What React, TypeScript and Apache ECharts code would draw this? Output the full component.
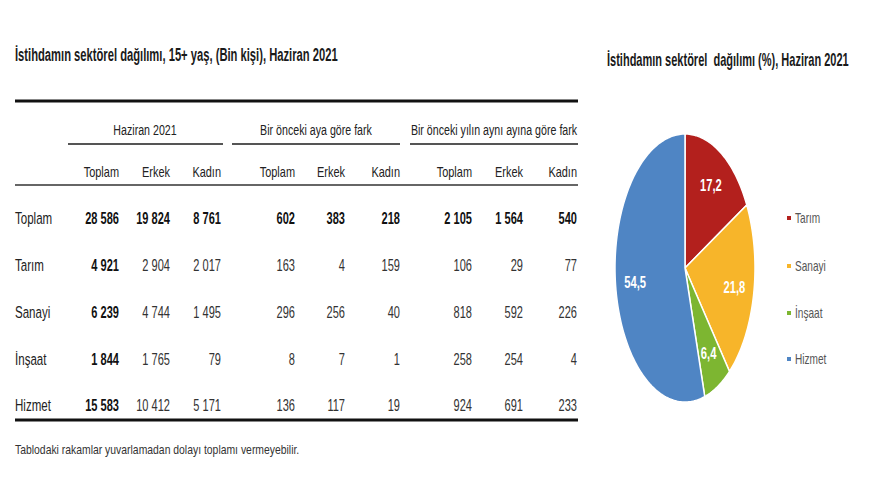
import React, { useEffect, useRef } from "react";
import * as echarts from "echarts";

const tableTitle = "İstihdamın sektörel dağılımı, 15+ yaş, (Bin kişi), Haziran 2021";
const pieTitle = "İstihdamın sektörel  dağılımı (%), Haziran 2021";
const footnote = "Tablodaki rakamlar yuvarlamadan dolayı toplamı vermeyebilir.";
const groupHeaders = ["Haziran 2021", "Bir önceki aya göre fark", "Bir önceki yılın aynı ayına göre fark"];
const colHeaders = ["Toplam", "Erkek", "Kadın"];
const rowLabels = ["Toplam", "Tarım", "Sanayi", "İnşaat", "Hizmet"];

const junTotal = [28586, 4921, 6239, 1844, 15583];
const junMale = [19824, 2904, 4744, 1765, 10412];
const junFemale = [8761, 2017, 1495, 79, 5171];
const momTotal = [602, 163, 296, 8, 136];
const momMale = [383, 4, 256, 7, 117];
const momFemale = [218, 159, 40, 1, 19];
const yoyTotal = [2105, 106, 818, 258, 924];
const yoyMale = [1564, 29, 592, 254, 691];
const yoyFemale = [540, 77, 226, 4, 233];

const sectors = ["Tarım", "Sanayi", "İnşaat", "Hizmet"];
const sharePct = [17.2, 21.8, 6.4, 54.5];
const sectorColors = ["#B3201D", "#F7B52A", "#7DB631", "#4F85C4"];

const FONT = '"Liberation Sans", Arial, sans-serif';

function fmt(n: number): string {
  const s = String(n);
  if (s.length <= 3) return s;
  return s.slice(0, s.length - 3) + " " + s.slice(s.length - 3);
}

export default function App() {
  const ref = useRef<HTMLDivElement>(null);
  useEffect(() => {
    if (!ref.current) return;
    const chart = echarts.init(ref.current, undefined, { renderer: "svg" });

    const columns = [junTotal, junMale, junFemale, momTotal, momMale, momFemale, yoyTotal, yoyMale, yoyFemale];
    const colRight = [119, 170, 221, 295, 345, 400, 472, 523, 577];
    const rowY = [218, 265, 312, 359, 405];
    const groupCenter = [145, 316, 494];
    const groupLine = [[68, 223], [232, 400], [410, 578]];

    const g: any[] = [];
    const txt = (text: string, x: number, y: number, size: number, opts: any = {}) => {
      g.push({
        type: "text",
        x,
        y,
        scaleX: opts.sx ?? 0.7,
        style: {
          text,
          fill: opts.fill || "#1a1a1a",
          font: `${opts.bold ? "bold " : ""}${size}px ${FONT}`,
          textAlign: opts.align || "left",
          textVerticalAlign: "middle",
          verticalAlign: "middle",
        },
      });
    };
    const line = (x1: number, y1: number, x2: number, y2: number, w: number, c: string) => {
      g.push({ type: "line", shape: { x1, y1, x2, y2 }, style: { stroke: c, lineWidth: w } });
    };

    txt(tableTitle, 15, 54, 19, { bold: true, sx: 0.59 });
    line(15, 101, 578, 101, 3, "#111");
    groupHeaders.forEach((h, i) => {
      txt(h, groupCenter[i], 130, 15, { align: "center", fill: "#222", sx: 0.71 });
      line(groupLine[i][0], 144, groupLine[i][1], 144, 2, "#555");
    });
    colRight.forEach((x, ci) => {
      txt(colHeaders[ci % 3], x, 172, 15, { align: "right", fill: "#222", sx: 0.73 });
    });
    line(15, 185, 578, 185, 2, "#666");
    rowLabels.forEach((r, ri) => {
      txt(r, 15, rowY[ri], 17, { fill: "#222", sx: 0.68 });
      columns.forEach((col, ci) => {
        const bold = ri === 0 || ci === 0;
        txt(fmt(col[ri]), colRight[ci], rowY[ri], 17, { align: "right", bold, fill: bold ? "#111" : "#333", sx: 0.65 });
      });
    });
    line(15, 420, 578, 420, 3, "#111");
    txt(footnote, 15, 449, 13, { fill: "#333", sx: 0.8 });

    txt(pieTitle, 607, 59, 19, { bold: true, sx: 0.58 });

    sectors.forEach((s, i) => {
      const y = [218, 266, 313, 359][i];
      g.push({ type: "rect", shape: { x: 787, y: y - 2, width: 4, height: 4 }, style: { fill: sectorColors[i] } });
      txt(s, 795, y, 14, { fill: "#555", sx: 0.72 });
    });

    const total = sharePct.reduce((a, b) => a + b, 0);
    const cx = 685, cy = 268, rx = 70, ry = 134;

    chart.setOption({
      animation: false,
      graphic: g,
      series: [
        {
          type: "custom",
          coordinateSystem: "none",
          data: sharePct.map((v, i) => ({ value: v, name: sectors[i] })),
          renderItem: (params: any, api: any) => {
            const i = params.dataIndex;
            const v = api.value(0);
            let before = 0;
            for (let k = 0; k < i; k++) before += sharePct[k];
            const a0 = -Math.PI / 2 + (before / total) * Math.PI * 2;
            const a1 = a0 + (v / total) * Math.PI * 2;
            const pts: number[][] = [[cx, cy]];
            const n = Math.max(4, Math.ceil((a1 - a0) / 0.02));
            for (let k = 0; k <= n; k++) {
              const a = a0 + ((a1 - a0) * k) / n;
              pts.push([cx + rx * Math.cos(a), cy + ry * Math.sin(a)]);
            }
            const am = (a0 + a1) / 2;
            const f = 0.72;
            return {
              type: "group",
              children: [
                { type: "polygon", shape: { points: pts }, style: { fill: sectorColors[i], stroke: "#fff", lineWidth: 1.5 } },
                {
                  type: "text",
                  x: cx + rx * f * Math.cos(am),
                  y: cy + ry * f * Math.sin(am),
                  scaleX: 0.7,
                  style: {
                    text: String(v).replace(".", ","),
                    fill: "#fff",
                    font: `bold 16px ${FONT}`,
                    textAlign: "center",
                    textVerticalAlign: "middle",
                    verticalAlign: "middle",
                  },
                },
              ],
            };
          },
        },
      ],
    });
    return () => chart.dispose();
  }, []);
  return <div ref={ref} style={{ position: "fixed", left: 0, top: 0, width: 880, height: 495, background: "#fff" }} />;
}
